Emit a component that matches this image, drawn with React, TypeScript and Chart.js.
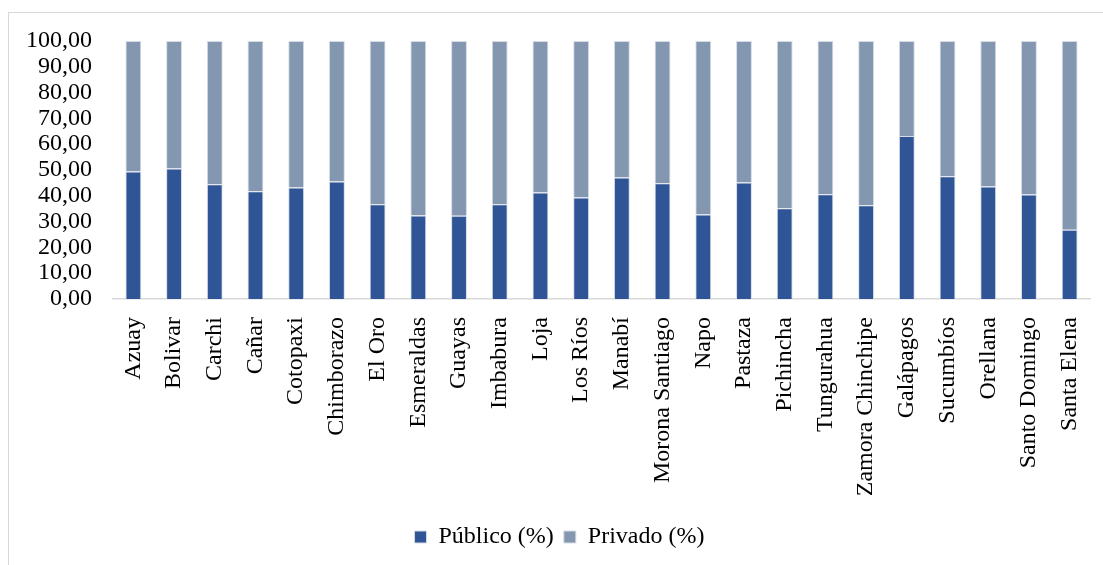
import React, { useEffect, useRef } from "react";
import { Chart, registerables } from "chart.js";

Chart.register(...registerables);

const categories = [
  "Azuay", "Bolivar", "Carchi", "Cañar", "Cotopaxi", "Chimborazo", "El Oro",
  "Esmeraldas", "Guayas", "Imbabura", "Loja", "Los Ríos", "Manabí",
  "Morona Santiago", "Napo", "Pastaza", "Pichincha", "Tungurahua",
  "Zamora Chinchipe", "Galápagos", "Sucumbíos", "Orellana", "Santo Domingo",
  "Santa Elena",
];

const publico = [
  49.4, 50.6, 44.5, 41.8, 43.2, 45.5, 36.7, 32.4, 32.3, 36.7, 41.3, 39.3,
  47.1, 44.9, 32.8, 45.2, 35.2, 40.6, 36.3, 63.2, 47.6, 43.6, 40.5, 26.8,
];

const privado = [
  50.6, 49.4, 55.5, 58.2, 56.8, 54.5, 63.3, 67.6, 67.7, 63.3, 58.7, 60.7,
  52.9, 55.1, 67.2, 54.8, 64.8, 59.4, 63.7, 36.8, 52.4, 56.4, 59.5, 73.2,
];

const seriesNames = ["Público (%)", "Privado (%)"];
const yMax = 100;
const yStep = 10;

const serif = "'Liberation Serif', 'Times New Roman', serif";
Chart.defaults.font.family = serif;
Chart.defaults.color = "#000";

const legendShift = {
  id: "legendShift",
  afterLayout(chart: any) {
    const l = chart.legend;
    if (l) {
      l.left += 10;
      l.right += 10;
    }
  },
};

export default function App() {
  const canvasRef = useRef<HTMLCanvasElement | null>(null);

  useEffect(() => {
    document.documentElement.style.overflow = "hidden";
    document.body.style.overflow = "hidden";
    const ctx = canvasRef.current;
    if (!ctx) return;
    const chart = new Chart(ctx, {
      type: "bar",
      data: {
        labels: categories,
        datasets: [
          {
            label: seriesNames[0],
            data: publico,
            backgroundColor: "#2F5597",
            borderColor: "#d6dce5",
            borderWidth: 1,
            barPercentage: 0.39,
            categoryPercentage: 1,
          },
          {
            label: seriesNames[1],
            data: privado,
            backgroundColor: "#8497B0",
            borderColor: "#d6dce5",
            borderWidth: 1,
            barPercentage: 0.39,
            categoryPercentage: 1,
          },
        ],
      },
      plugins: [legendShift],
      options: {
        animation: false,
        responsive: false,
        maintainAspectRatio: false,
        layout: { padding: { top: 28, right: 13, bottom: 6, left: 0 } },
        plugins: {
          legend: {
            position: "bottom",
            labels: {
              color: "#000",
              font: { family: serif, size: 24 },
              boxWidth: 12,
              boxHeight: 12,
              padding: 10,
            },
          },
          tooltip: { enabled: false },
        },
        scales: {
          x: {
            stacked: true,
            grid: { display: false, drawTicks: false },
            border: { display: true, color: "#d9d9d9", width: 1.5 },
            ticks: {
              color: "#000",
              font: { family: serif, size: 24 },
              minRotation: 90,
              maxRotation: 90,
              autoSkip: false,
              padding: 18,
            },
            afterFit: (scale: any) => {
              scale.height = 216;
              scale.paddingLeft = 0;
              scale.paddingRight = 0;
            },
          },
          y: {
            stacked: true,
            min: 0,
            max: yMax,
            grid: { display: false, drawTicks: false },
            border: { display: false },
            ticks: {
              stepSize: yStep,
              autoSkip: false,
              color: "#000",
              font: { family: serif, size: 24 },
              padding: 21,
              callback: (v: any) => Number(v).toFixed(2).replace(".", ","),
            },
            afterFit: (scale: any) => {
              scale.width = 104;
              scale.paddingTop = 0;
              scale.paddingBottom = 0;
            },
          },
        },
      },
    });
    return () => chart.destroy();
  }, []);

  return (
    <div
      style={{
        position: "absolute",
        left: 8,
        top: 12,
        width: 1094,
        height: 552,
        borderTop: "1px solid #d9d9d9",
        borderLeft: "1px solid #d9d9d9",
      }}
    >
      <canvas ref={canvasRef} width={1094} height={552} style={{ display: "block" }} />
    </div>
  );
}
